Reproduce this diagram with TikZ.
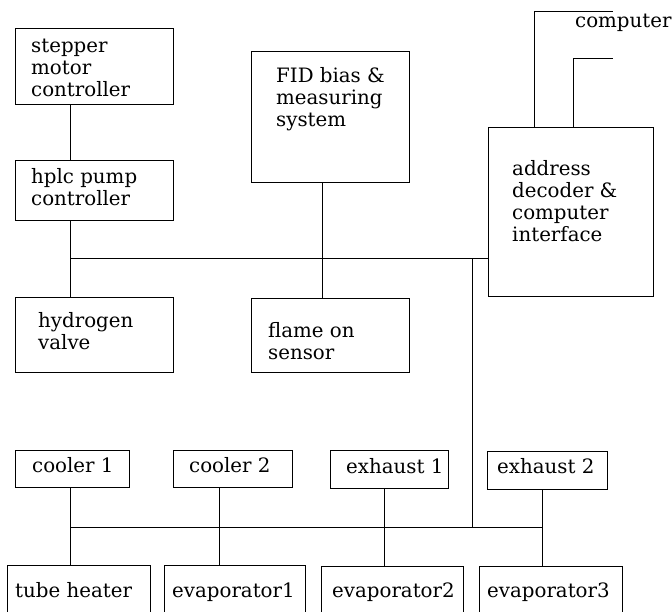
\documentclass[tikz,border=0pt]{standalone}
\usepackage{fontspec}
\setmainfont{DejaVu Serif}
\usetikzlibrary{fit}
\newcommand\lblfont{\fontsize{19.8}{22}\selectfont}
\begin{document}
\begin{tikzpicture}[x=1pt,y=-1pt,
  box/.style={draw, line width=1pt, inner sep=0pt, outer sep=0pt},
  lbl/.style={anchor=north west, inner sep=0pt, align=left, font=\lblfont},
  wire/.style={line width=1pt}]
\useasboundingbox (0,0) rectangle (672,611);
\clip (0,0) rectangle (672,611);

% blocks
\node[box, fit={(15,28) (173,104)}] (stepper) {};
\node[box, fit={(15,160) (173,220)}] (hplc) {};
\node[box, fit={(15,297) (173,372)}] (hydrogen) {};
\node[box, fit={(251,51) (409,182)}] (fid) {};
\node[box, fit={(251,298) (409,372)}] (flame) {};
\node[box, fit={(488,127) (653,296)}] (address) {};
\node[box, fit={(15,450) (129,487)}] (cooler1) {};
\node[box, fit={(173,450) (292,487)}] (cooler2) {};
\node[box, fit={(330,450) (448,488)}] (exhaust1) {};
\node[box, fit={(487,451) (607,489)}] (exhaust2) {};
\node[box, fit={(7,565) (150,640)}] (tube) {};
\node[box, fit={(164,565) (305,640)}] (evap1) {};
\node[box, fit={(321,566) (463,640)}] (evap2) {};
\node[box, fit={(479,566) (622,640)}] (evap3) {};

% labels (top = first baseline - 15.4)
\node[lbl] (stepper-t) at (31,36.6) {\strut stepper\\motor\\controller};
\node[lbl] (hplc-t) at (31,167.6) {\strut hplc pump\\controller};
\node[lbl] (hydrogen-t) at (38,311.6) {\strut hydrogen\\valve};
\node[lbl] (fid-t) at (276,66.6) {\strut FID bias \&\\measuring\\system};
\node[lbl] (flame-t) at (268,321.6) {\strut flame on\\sensor};
\node[lbl] (address-t) at (512,159.6) {\strut address\\decoder \&\\computer\\interface};
\node[lbl] (computer-t) at (575,11.6) {\strut computer};
\node[lbl] (cooler1-t) at (32,456.6) {\strut cooler 1};
\node[lbl] (cooler2-t) at (189,456.6) {\strut cooler 2};
\node[lbl] (exhaust1-t) at (346,457.6) {\strut exhaust 1};
\node[lbl] (exhaust2-t) at (497,457.6) {\strut exhaust 2};
\node[lbl] (tube-t) at (15,581.6) {\strut tube heater};
\node[lbl] (evap1-t) at (172,581.6) {\strut evaporator1};
\node[lbl] (evap2-t) at (332,581.6) {\strut evaporator2};
\node[lbl] (evap3-t) at (487,581.6) {\strut evaporator3};

% wiring columns and bus rows
\coordinate (xa) at (70,0);
\coordinate (xf) at (322,0);
\coordinate (xv) at (472,0);
\coordinate (xc2) at (219,0);
\coordinate (xe1) at (384,0);
\coordinate (xe2) at (542,0);
\coordinate (xk1) at (534,0);
\coordinate (xk2) at (573,0);
\coordinate (bus1) at (70,258);
\coordinate (bus2) at (70,527);
\coordinate (k1) at (613,11);
\coordinate (k2) at (613,58);

\draw[wire] (stepper.south -| xa) -- (hplc.north -| xa);
\draw[wire] (hplc.south -| xa) -- (hydrogen.north -| xa);
\draw[wire] (bus1) -- (bus1 -| address.west);
\draw[wire] (fid.south -| xf) -- (flame.north -| xf);
\draw[wire] (bus1 -| xv) -- (bus2 -| xv);
\draw[wire] (bus2) -- (bus2 -| xe2);
\draw[wire] (cooler1.south -| xa) -- (tube.north -| xa);
\draw[wire] (cooler2.south -| xc2) -- (evap1.north -| xc2);
\draw[wire] (exhaust1.south -| xe1) -- (evap2.north -| xe1);
\draw[wire] (exhaust2.south -| xe2) -- (evap3.north -| xe2);
\draw[wire] (address.north -| xk1) |- (k1);
\draw[wire] (address.north -| xk2) |- (k2);
\end{tikzpicture}
\end{document}
